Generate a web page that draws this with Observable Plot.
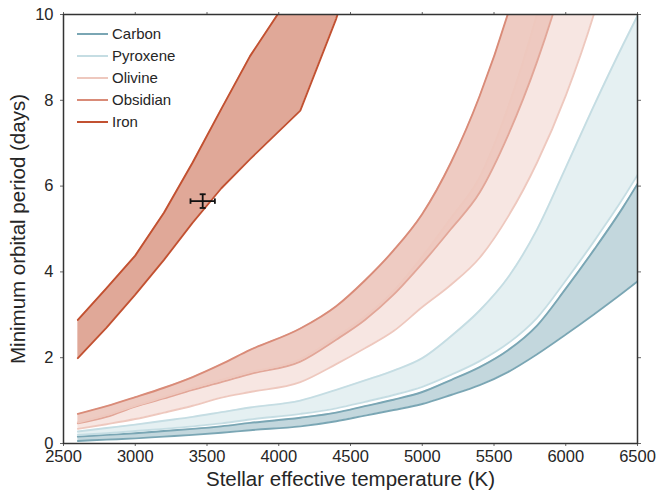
<!DOCTYPE html>
<html><head><meta charset="utf-8">
<script src="https://cdn.jsdelivr.net/npm/d3@7"></script>
<script src="https://cdn.jsdelivr.net/npm/@observablehq/plot@0.6"></script>
<style>
body{margin:0;background:#fff;font-family:"Liberation Sans",Arial,sans-serif;}
#wrap{position:relative;width:658px;height:495px;}
.legend{position:absolute;left:77px;top:23px;}
.legend .row{display:flex;align-items:center;height:21.9px;}
.legend .sw{width:31px;height:2px;margin-right:4px;}
.legend span{font-size:15px;color:#262626;line-height:15px;}
</style></head><body><div id="wrap"></div>
<script>
// ---- data ----
const temps = [2600,2800,3000,3200,3400,3600,3800,4150,4400,4600,4800,5000,5200,5400,5600,5800,6000,6200,6400,6500];
const carbonLo   = [0.06,0.09,0.12,0.16,0.20,0.25,0.31,0.40,0.52,0.65,0.78,0.92,1.13,1.36,1.67,2.08,2.54,3.02,3.52,3.78];
const carbonHi   = [0.16,0.20,0.24,0.29,0.34,0.40,0.48,0.60,0.72,0.87,1.02,1.20,1.48,1.78,2.18,2.75,3.61,4.53,5.51,6.05];
const pyroxeneLo = [0.20,0.24,0.29,0.34,0.40,0.47,0.56,0.69,0.82,0.97,1.13,1.32,1.60,1.92,2.34,2.93,3.80,4.73,5.72,6.26];
const pyroxeneHi = [0.28,0.36,0.44,0.53,0.62,0.73,0.84,1.00,1.25,1.47,1.70,1.99,2.50,3.10,3.88,4.99,6.43,7.90,9.30,9.97];
const olivineLo  = [0.34,0.45,0.57,0.72,0.88,1.07,1.20,1.43,1.85,2.22,2.62,3.18,3.70,4.33,5.30,6.55,8.11,10.05,12.5,13.9];
const olivineHi  = [0.49,0.66,0.88,1.08,1.29,1.48,1.66,1.96,2.48,2.95,3.55,4.35,5.25,6.20,7.85,10.0,12.6,15.5,19.0,21.0];
const obsidianLo = [0.47,0.62,0.86,1.05,1.25,1.43,1.62,1.91,2.42,2.88,3.47,4.20,5.00,5.85,7.20,8.90,11.0,13.5,16.5,18.0];
const obsidianHi = [0.69,0.87,1.08,1.30,1.55,1.85,2.18,2.68,3.20,3.80,4.50,5.35,6.55,8.10,10.05,12.5,15.4,19.0,23.0,25.0];
const ironLo     = [1.99,2.70,3.47,4.28,5.15,5.95,6.63,7.76,9.90,12.0,14.5,17.5,21.0,25.0,30.0,36.0,43.0,51.0,60.0,65.0];
const ironHi     = [2.88,3.62,4.38,5.38,6.55,7.80,9.03,10.8,12.5,14.5,17.0,20.0,24.0,28.0,33.0,39.0,46.0,54.0,63.0,68.0];

const materials = ["Carbon","Pyroxene","Olivine","Obsidian","Iron"];
const colors    = ["#7aa6b4","#c5dde3","#eec8be","#d98b78","#c25131"];

const obsT = [3470], obsTErr = [85], obsP = [5.65], obsPErr = [0.16];

const xTicks = [2500,3000,3500,4000,4500,5000,5500,6000,6500];
const yTicks = [0,2,4,6,8,10];
const xTitle = "Stellar effective temperature (K)";
const yTitle = "Minimum orbital period (days)";

// ---- marks ----
const bands = {
  Carbon: [carbonLo, carbonHi],
  Pyroxene: [pyroxeneLo, pyroxeneHi],
  Olivine: [olivineLo, olivineHi],
  Obsidian: [obsidianLo, obsidianHi],
  Iron: [ironLo, ironHi]
};
const colorOf = Object.fromEntries(materials.map((m,i)=>[m, colors[i]]));
const drawOrder = ["Iron","Obsidian","Olivine","Carbon","Pyroxene"];
const bandMarks = drawOrder.flatMap(m => {
  const [lo, hi] = bands[m];
  const c = colorOf[m];
  const curve = m === "Iron" ? "linear" : "monotone-x";
  return [
    Plot.areaY(temps, {x: temps, y1: lo, y2: hi, fill: c, fillOpacity: m === "Iron" ? 0.5 : 0.45, curve, clip: true}),
    Plot.line(temps, {x: temps, y: lo, stroke: c, strokeWidth: 1.9, curve, clip: true}),
    Plot.line(temps, {x: temps, y: hi, stroke: c, strokeWidth: 1.9, curve, clip: true})
  ];
});

const pt = obsT.map((t,i)=>({t, te: obsTErr[i], p: obsP[i], pe: obsPErr[i]}));
const vCap = {draw(ctx, size){ const r = Math.sqrt(size/Math.PI); ctx.moveTo(0,-r); ctx.lineTo(0,r); }};
const hCap = {draw(ctx, size){ const r = Math.sqrt(size/Math.PI); ctx.moveTo(-r,0); ctx.lineTo(r,0); }};
const errMarks = [
  Plot.ruleY(pt, {y: "p", x1: d=>d.t-d.te, x2: d=>d.t+d.te, stroke: "#111", strokeWidth: 1.8}),
  Plot.ruleX(pt, {x: "t", y1: d=>d.p-d.pe, y2: d=>d.p+d.pe, stroke: "#111", strokeWidth: 1.8}),
  Plot.dot(pt.flatMap(d=>[{x:d.t-d.te,y:d.p},{x:d.t+d.te,y:d.p}]), {x:"x", y:"y", symbol: vCap, r: 2.7, stroke:"#111", fill:"none", strokeWidth: 1.8}),
  Plot.dot(pt.flatMap(d=>[{x:d.t,y:d.p-d.pe},{x:d.t,y:d.p+d.pe}]), {x:"x", y:"y", symbol: hCap, r: 3, stroke:"#111", fill:"none", strokeWidth: 1.8})
];

const chart = Plot.plot({
  width: 658, height: 495,
  marginLeft: 63, marginRight: 21, marginTop: 14, marginBottom: 52,
  x: {domain: [2500, 6500]},
  y: {domain: [0, 10]},
  style: {fontFamily: "'Liberation Sans', Arial, sans-serif", color: "#262626", background: "white"},
  marks: [
    ...bandMarks,
    ...errMarks,
    Plot.axisX(xTicks, {tickSize: 3, tickPadding: 4, fontSize: 16.5, tickFormat: "d", label: null, stroke: "#666"}),
    Plot.axisY(yTicks, {tickSize: 3, tickPadding: 7, fontSize: 16.5, tickFormat: "d", label: null, stroke: "#666"}),
    Plot.axisX(xTicks, {anchor: "top", tickSize: 3, tickFormat: () => "", label: null, stroke: "#666"}),
    Plot.axisY(yTicks, {anchor: "right", tickSize: 3, tickFormat: () => "", label: null, stroke: "#666"}),
    Plot.frame({stroke: "#333", strokeWidth: 1.5}),
    Plot.text([xTitle], {frameAnchor: "bottom", dy: 42, fontSize: 20.5, fill: "#262626", textAnchor: "middle"}),
    Plot.text([yTitle], {frameAnchor: "left", dx: -45, rotate: -90, fontSize: 20.5, fill: "#262626", textAnchor: "middle"})
  ]
});
const wrap = document.getElementById("wrap");
wrap.appendChild(chart);

const legend = document.createElement("div");
legend.className = "legend";
materials.forEach((m,i)=>{
  const row = document.createElement("div"); row.className = "row";
  const sw = document.createElement("div"); sw.className = "sw"; sw.style.background = colors[i];
  const t = document.createElement("span"); t.textContent = m;
  row.appendChild(sw); row.appendChild(t); legend.appendChild(row);
});
wrap.appendChild(legend);
</script></body></html>
